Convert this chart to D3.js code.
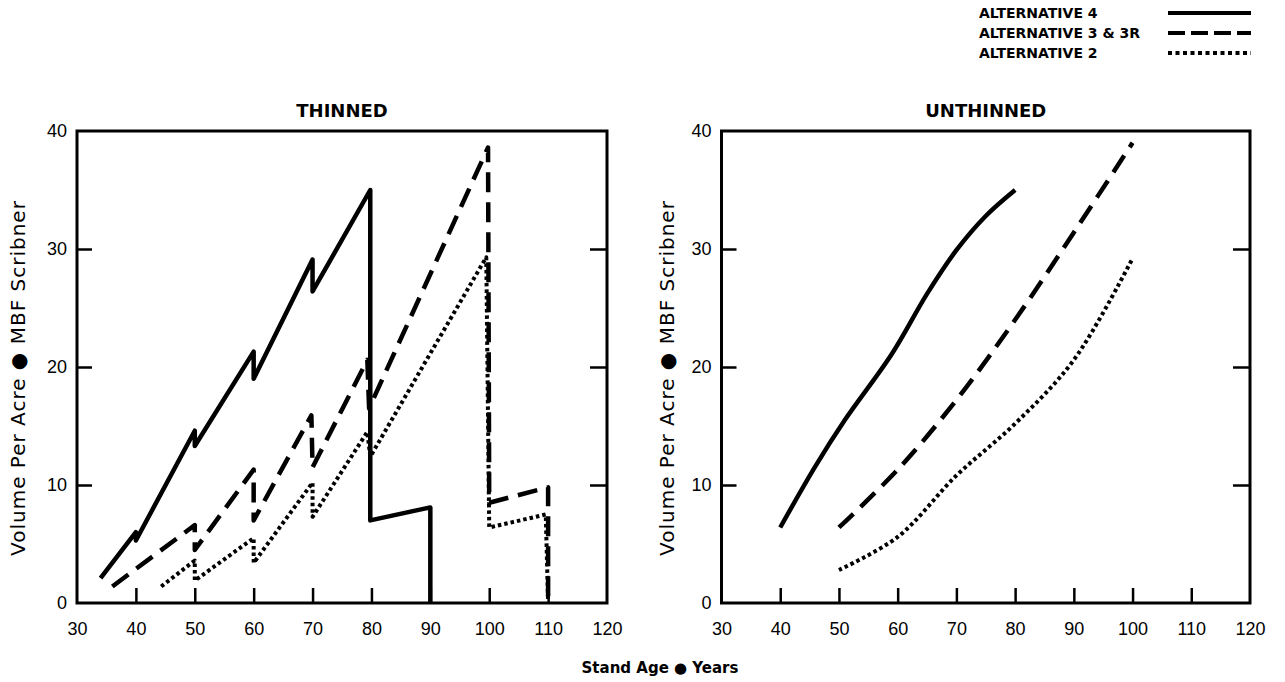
<!DOCTYPE html>
<html>
<head>
<meta charset="utf-8">
<script src="https://cdn.jsdelivr.net/npm/d3@7/dist/d3.min.js"></script>
<style>
  body { margin: 0; background: #fff; }
  text { fill: #000; }
  .tick line { stroke: #000; stroke-width: 2.5; }
</style>
</head>
<body>
<div id="wrapper"></div>
<script>
const xTicks = [30, 40, 50, 60, 70, 80, 90, 100, 110, 120]
const yTicks = [0, 10, 20, 30, 40]
const seriesNames = ["ALTERNATIVE 4", "ALTERNATIVE 3 & 3R", "ALTERNATIVE 2"]
const panelTitles = ["THINNED", "UNTHINNED"]

// thinned panel (vertical drops are the thinnings / harvests)
const thinAge4 = [34, 40, 40, 50, 50, 60, 60, 70, 70, 79.8, 79.8, 90, 90]
const thinVol4 = [2.1, 6.0, 5.3, 14.6, 13.3, 21.3, 19.0, 29.1, 26.4, 35.0, 7.0, 8.1, 0]
const thinAge3 = [36, 50, 50, 60, 60, 69.8, 70, 79.3, 79.6, 99.8, 100, 110, 110]
const thinVol3 = [1.4, 6.6, 4.5, 11.3, 7.0, 15.9, 11.5, 20.6, 16.5, 38.6, 8.5, 9.8, 0]
const thinAge2 = [44.3, 50, 50, 60, 60, 70, 70, 79.3, 79.8, 99.5, 100, 109.6, 110]
const thinVol2 = [1.4, 3.6, 1.9, 5.5, 3.4, 10.2, 7.3, 14.5, 12.4, 29.3, 6.4, 7.5, 0]

// unthinned panel
const unAge4 = [40, 46, 51, 59, 65, 70, 75, 80]
const unVol4 = [6.4, 11.6, 15.5, 21.1, 26.2, 29.9, 32.8, 35.0]
const unAge3 = [50, 60, 70, 80, 90, 100]
const unVol3 = [6.4, 11.3, 17.2, 24.0, 31.4, 39.0]
const unAge2 = [50, 60, 70, 80, 90, 100]
const unVol2 = [2.8, 5.6, 10.8, 15.2, 20.6, 29.2]

const styles = [
    { width: 4.5, dash: null },
    { width: 4.5, dash: "20,10" },
    { width: 4, dash: "3.5,3" },
]
const legendDash = [null, "17,6", "4,3.5"]

const zip = (xs, ys) => xs.map((x, i) => ({ age: x, vol: ys[i] }))

const panels = [{
    title: panelTitles[0],
    xRange: [77, 607],
    series: [zip(thinAge4, thinVol4), zip(thinAge3, thinVol3), zip(thinAge2, thinVol2)],
    curve: d3.curveLinear,
    yLabelX: 18,
}, {
    title: panelTitles[1],
    xRange: [721.5, 1250],
    series: [zip(unAge4, unVol4), zip(unAge3, unVol3), zip(unAge2, unVol2)],
    curve: d3.curveCatmullRom.alpha(0.5),
    yLabelX: 667,
}]

const width = 1285
const height = 682
const plotTop = 131
const plotBottom = 603

const svg = d3.select("#wrapper")
    .append("svg")
    .attr("width", width)
    .attr("height", height)

panels.forEach(p => {
    const xScale = d3.scaleLinear()
        .domain([30, 120])
        .range(p.xRange)
    const yScale = d3.scaleLinear()
        .domain([0, 40])
        .range([plotBottom, plotTop])

    const g = svg.append("g")

    // ticks pointing inward
    g.append("g")
        .attr("transform", `translate(0,${plotBottom})`)
        .call(d3.axisBottom(xScale).tickValues(xTicks).tickSizeInner(-15).tickSizeOuter(0).tickPadding(19))
        .call(a => a.select(".domain").remove())
        .call(a => a.selectAll(".tick").filter(d => d == 30 || d == 120).select("line").remove())
    g.append("g")
        .attr("transform", `translate(${p.xRange[0]},0)`)
        .call(d3.axisLeft(yScale).tickValues(yTicks).tickSizeInner(-15).tickSizeOuter(0).tickPadding(10))
        .call(a => a.select(".domain").remove())
        .call(a => a.selectAll(".tick").filter(d => d == 0 || d == 40).select("line").remove())
    g.append("g")
        .attr("transform", `translate(${p.xRange[1]},0)`)
        .call(d3.axisRight(yScale).tickValues(yTicks.slice(1, 4)).tickSizeInner(-17).tickSizeOuter(0).tickFormat(""))
        .call(a => a.select(".domain").remove())

    g.selectAll(".tick text")
        .attr("font-family", "Liberation Sans, Arial, sans-serif")
        .attr("font-size", 18)

    g.append("rect")
        .attr("x", p.xRange[0])
        .attr("y", plotTop)
        .attr("width", p.xRange[1] - p.xRange[0])
        .attr("height", plotBottom - plotTop)
        .attr("fill", "none")
        .attr("stroke", "#000")
        .attr("stroke-width", 3)

    const line = d3.line()
        .x(d => xScale(d.age))
        .y(d => yScale(d.vol))
        .curve(p.curve)

    p.series.forEach((s, i) => {
        g.append("path")
            .datum(s)
            .attr("d", line)
            .attr("fill", "none")
            .attr("stroke", "#000")
            .attr("stroke-width", styles[i].width)
            .attr("stroke-dasharray", styles[i].dash)
            .attr("stroke-linejoin", "round")
    })

    g.append("text")
        .attr("x", (p.xRange[0] + p.xRange[1]) / 2)
        .attr("y", 117)
        .attr("text-anchor", "middle")
        .attr("font-family", "DejaVu Sans")
        .attr("font-size", 18)
        .attr("font-weight", "bold")
        .text(p.title)

    g.append("text")
        .attr("transform", `translate(${p.yLabelX},378) rotate(-90)`)
        .attr("text-anchor", "middle")
        .attr("dy", "0.35em")
        .attr("font-family", "DejaVu Sans")
        .attr("font-size", 20)
        .attr("letter-spacing", 1)
        .text("Volume Per Acre \u25CF MBF Scribner")
})

svg.append("text")
    .attr("x", 660)
    .attr("y", 673)
    .attr("text-anchor", "middle")
    .attr("font-family", "DejaVu Sans")
    .attr("font-size", 15)
    .attr("font-weight", "bold")
    .text("Stand Age \u25CF Years")

// legend
const legend = svg.append("g")
seriesNames.forEach((name, i) => {
    const y = 13 + i * 20
    legend.append("text")
        .attr("x", 979)
        .attr("y", y)
        .attr("dy", "0.36em")
        .attr("font-family", "DejaVu Sans")
        .attr("font-size", 14)
        .attr("font-weight", "bold")
        .text(name)
    legend.append("line")
        .attr("x1", 1168)
        .attr("x2", 1251)
        .attr("y1", y)
        .attr("y2", y)
        .attr("stroke", "#000")
        .attr("stroke-width", 4)
        .attr("stroke-dasharray", legendDash[i])
})
</script>
</body>
</html>
